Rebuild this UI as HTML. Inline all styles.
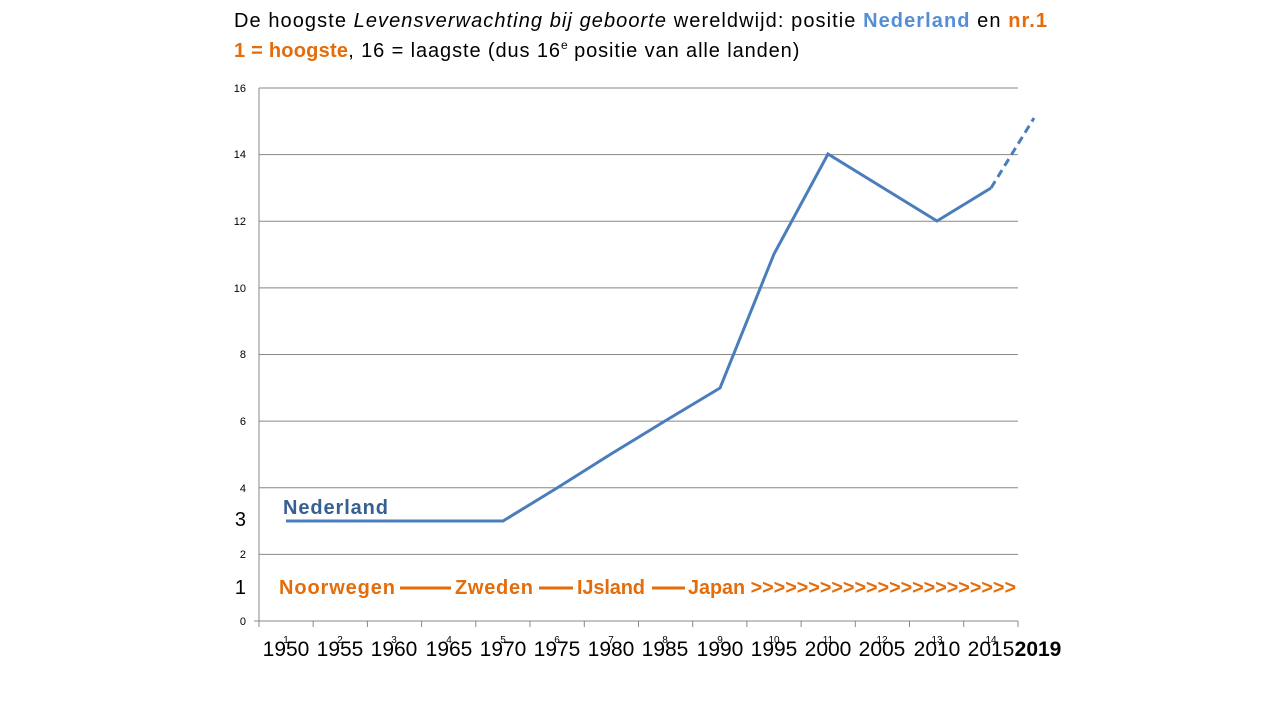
<!DOCTYPE html>
<html><head><meta charset="utf-8"><style>
body{margin:0;background:#fff;width:1280px;height:720px;overflow:hidden}
svg text{font-family:"Liberation Sans",sans-serif}
</style></head><body>
<svg width="1280" height="720" xmlns="http://www.w3.org/2000/svg">
<text x="234" y="27" font-size="20" fill="#000" textLength="813" lengthAdjust="spacing">De hoogste <tspan font-style="italic">Levensverwachting bij geboorte</tspan> wereldwijd: positie <tspan fill="#558ed5" font-weight="bold">Nederland</tspan> en <tspan fill="#e46c0a" font-weight="bold">nr.1</tspan></text>
<text x="234" y="57" font-size="20" fill="#000"><tspan fill="#e46c0a" font-weight="bold" textLength="114" lengthAdjust="spacing">1 = hoogste</tspan><tspan letter-spacing="0.9">, 16 = laagste (dus 16</tspan><tspan font-size="12" dy="-8">e</tspan><tspan dy="8" letter-spacing="0.9"> positie van alle landen)</tspan></text>
<g stroke="#888" stroke-width="1">
<line x1="259" y1="88" x2="1018" y2="88"/>
<line x1="259" y1="154.6" x2="1018" y2="154.6"/>
<line x1="259" y1="221.3" x2="1018" y2="221.3"/>
<line x1="259" y1="287.9" x2="1018" y2="287.9"/>
<line x1="259" y1="354.5" x2="1018" y2="354.5"/>
<line x1="259" y1="421.1" x2="1018" y2="421.1"/>
<line x1="259" y1="487.8" x2="1018" y2="487.8"/>
<line x1="259" y1="554.4" x2="1018" y2="554.4"/>
<line x1="259" y1="621" x2="1018" y2="621"/>
<line x1="259" y1="88" x2="259" y2="621"/>
<line x1="254" y1="621" x2="259" y2="621"/>
</g>
<g stroke="#888" stroke-width="1">
<line x1="259" y1="621" x2="259" y2="627"/><line x1="313.2" y1="621" x2="313.2" y2="627"/><line x1="367.4" y1="621" x2="367.4" y2="627"/><line x1="421.6" y1="621" x2="421.6" y2="627"/><line x1="475.8" y1="621" x2="475.8" y2="627"/><line x1="530" y1="621" x2="530" y2="627"/><line x1="584.3" y1="621" x2="584.3" y2="627"/><line x1="638.5" y1="621" x2="638.5" y2="627"/><line x1="692.7" y1="621" x2="692.7" y2="627"/><line x1="746.9" y1="621" x2="746.9" y2="627"/><line x1="801.1" y1="621" x2="801.1" y2="627"/><line x1="855.3" y1="621" x2="855.3" y2="627"/><line x1="909.5" y1="621" x2="909.5" y2="627"/><line x1="963.7" y1="621" x2="963.7" y2="627"/><line x1="1018" y1="621" x2="1018" y2="627"/>
</g>
<g font-size="11" fill="#000" text-anchor="end">
<text x="246" y="92">16</text><text x="246" y="158">14</text><text x="246" y="225">12</text><text x="246" y="292">10</text><text x="246" y="358">8</text><text x="246" y="425">6</text><text x="246" y="492">4</text><text x="246" y="558">2</text><text x="246" y="625">0</text>
</g>
<text x="246" y="526" font-size="20" text-anchor="end">3</text>
<text x="246" y="594" font-size="20" text-anchor="end">1</text>
<g font-size="10" text-anchor="middle">
<text x="286" y="643">1</text><text x="340" y="643">2</text><text x="394" y="643">3</text><text x="449" y="643">4</text><text x="503" y="643">5</text><text x="557" y="643">6</text><text x="611" y="643">7</text><text x="665" y="643">8</text><text x="720" y="643">9</text><text x="774" y="643">10</text><text x="828" y="643">11</text><text x="882" y="643">12</text><text x="937" y="643">13</text><text x="991" y="643">14</text>
</g>
<g font-size="21" text-anchor="middle">
<text x="286" y="656">1950</text><text x="340" y="656">1955</text><text x="394" y="656">1960</text><text x="449" y="656">1965</text><text x="503" y="656">1970</text><text x="557" y="656">1975</text><text x="611" y="656">1980</text><text x="665" y="656">1985</text><text x="720" y="656">1990</text><text x="774" y="656">1995</text><text x="828" y="656">2000</text><text x="882" y="656">2005</text><text x="937" y="656">2010</text><text x="991" y="656">2015</text><text x="1038" y="656" font-weight="bold">2019</text>
</g>
<polyline fill="none" stroke="#4a7ebb" stroke-width="3" points="286,521 503,521 557,488 611,454 665,421 720,388 774,254 828,154 937,221 991,188"/>
<line x1="991" y1="188" x2="1034" y2="118" stroke="#4a7ebb" stroke-width="3" stroke-dasharray="8,5"/>
<text x="283" y="514" font-size="20" font-weight="bold" fill="#376092" textLength="105" lengthAdjust="spacing">Nederland</text>
<g font-size="20" font-weight="bold" fill="#e46c0a">
<text x="279" y="594" textLength="116" lengthAdjust="spacing">Noorwegen</text>
<text x="455" y="594" textLength="78" lengthAdjust="spacing">Zweden</text>
<text x="577" y="594" textLength="68" lengthAdjust="spacing">IJsland</text>
<text x="688" y="594" textLength="328" lengthAdjust="spacingAndGlyphs">Japan &gt;&gt;&gt;&gt;&gt;&gt;&gt;&gt;&gt;&gt;&gt;&gt;&gt;&gt;&gt;&gt;&gt;&gt;&gt;&gt;&gt;&gt;&gt;</text>
</g>
<g stroke="#e46c0a" stroke-width="3">
<line x1="400" y1="588" x2="451" y2="588"/>
<line x1="539" y1="588" x2="573" y2="588"/>
<line x1="652" y1="588" x2="685" y2="588"/>
</g>
</svg>
</body></html>
